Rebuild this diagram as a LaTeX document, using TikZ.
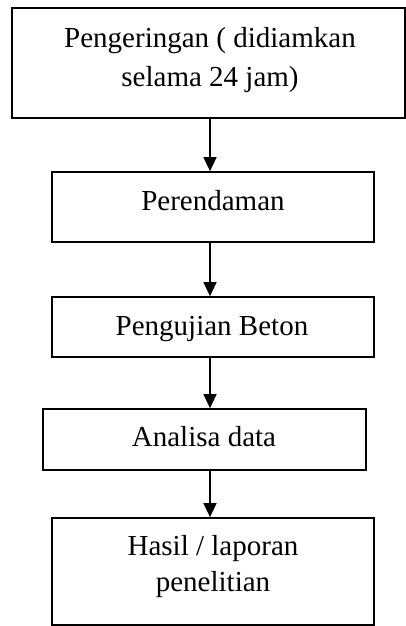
\documentclass[tikz,border=0pt]{standalone}
\usepackage{fontspec}
\setmainfont{Liberation Serif}
\usetikzlibrary{arrows.meta}
\begin{document}
\begin{tikzpicture}[x=1pt,y=-1pt,
  box/.style={draw=black, line width=1.7pt, inner sep=0pt},
  lbl/.style={inner sep=0pt, anchor=base, align=center},
  arr/.style={draw=black, line width=1.5pt, -{Triangle[width=13pt,length=14pt]}}]
\useasboundingbox (0,0) rectangle (406,626);
% boxes
\node[box, minimum width=393pt, minimum height=110pt] (b1) at (208.5,63) {};
\node[box, minimum width=322pt, minimum height=70pt] (b2) at (213,207) {};
\node[box, minimum width=322pt, minimum height=60pt] (b3) at (213,327) {};
\node[box, minimum width=323pt, minimum height=61pt] (b4) at (204.5,439.5) {};
\node[box, minimum width=322pt, minimum height=107pt] (b5) at (213,571.5) {};
% texts (base anchor = baseline of last line)
\node[lbl, font=\fontsize{29}{38.7}\selectfont] (t1) at (210,86) {Pengeringan ( didiamkan\\selama 24 jam)};
\node[lbl, font=\fontsize{29}{36}\selectfont] (t2) at (213,210.7) {Perendaman};
\node[lbl, font=\fontsize{29}{36}\selectfont] (t3) at (212,335) {Pengujian Beton};
\node[lbl, font=\fontsize{29}{36}\selectfont] (t4) at (204,446.7) {Analisa data};
\node[lbl, font=\fontsize{29}{36.7}\selectfont] (t5) at (213,591.7) {Hasil / laporan\\penelitian};
% arrows
\coordinate (ax) at (210,0);
\draw[arr] (b1.south -| ax) -- (b2.north -| ax);
\draw[arr] (b2.south -| ax) -- (b3.north -| ax);
\draw[arr] (b3.south -| ax) -- (b4.north -| ax);
\draw[arr] (b4.south -| ax) -- (b5.north -| ax);
\end{tikzpicture}
\end{document}
